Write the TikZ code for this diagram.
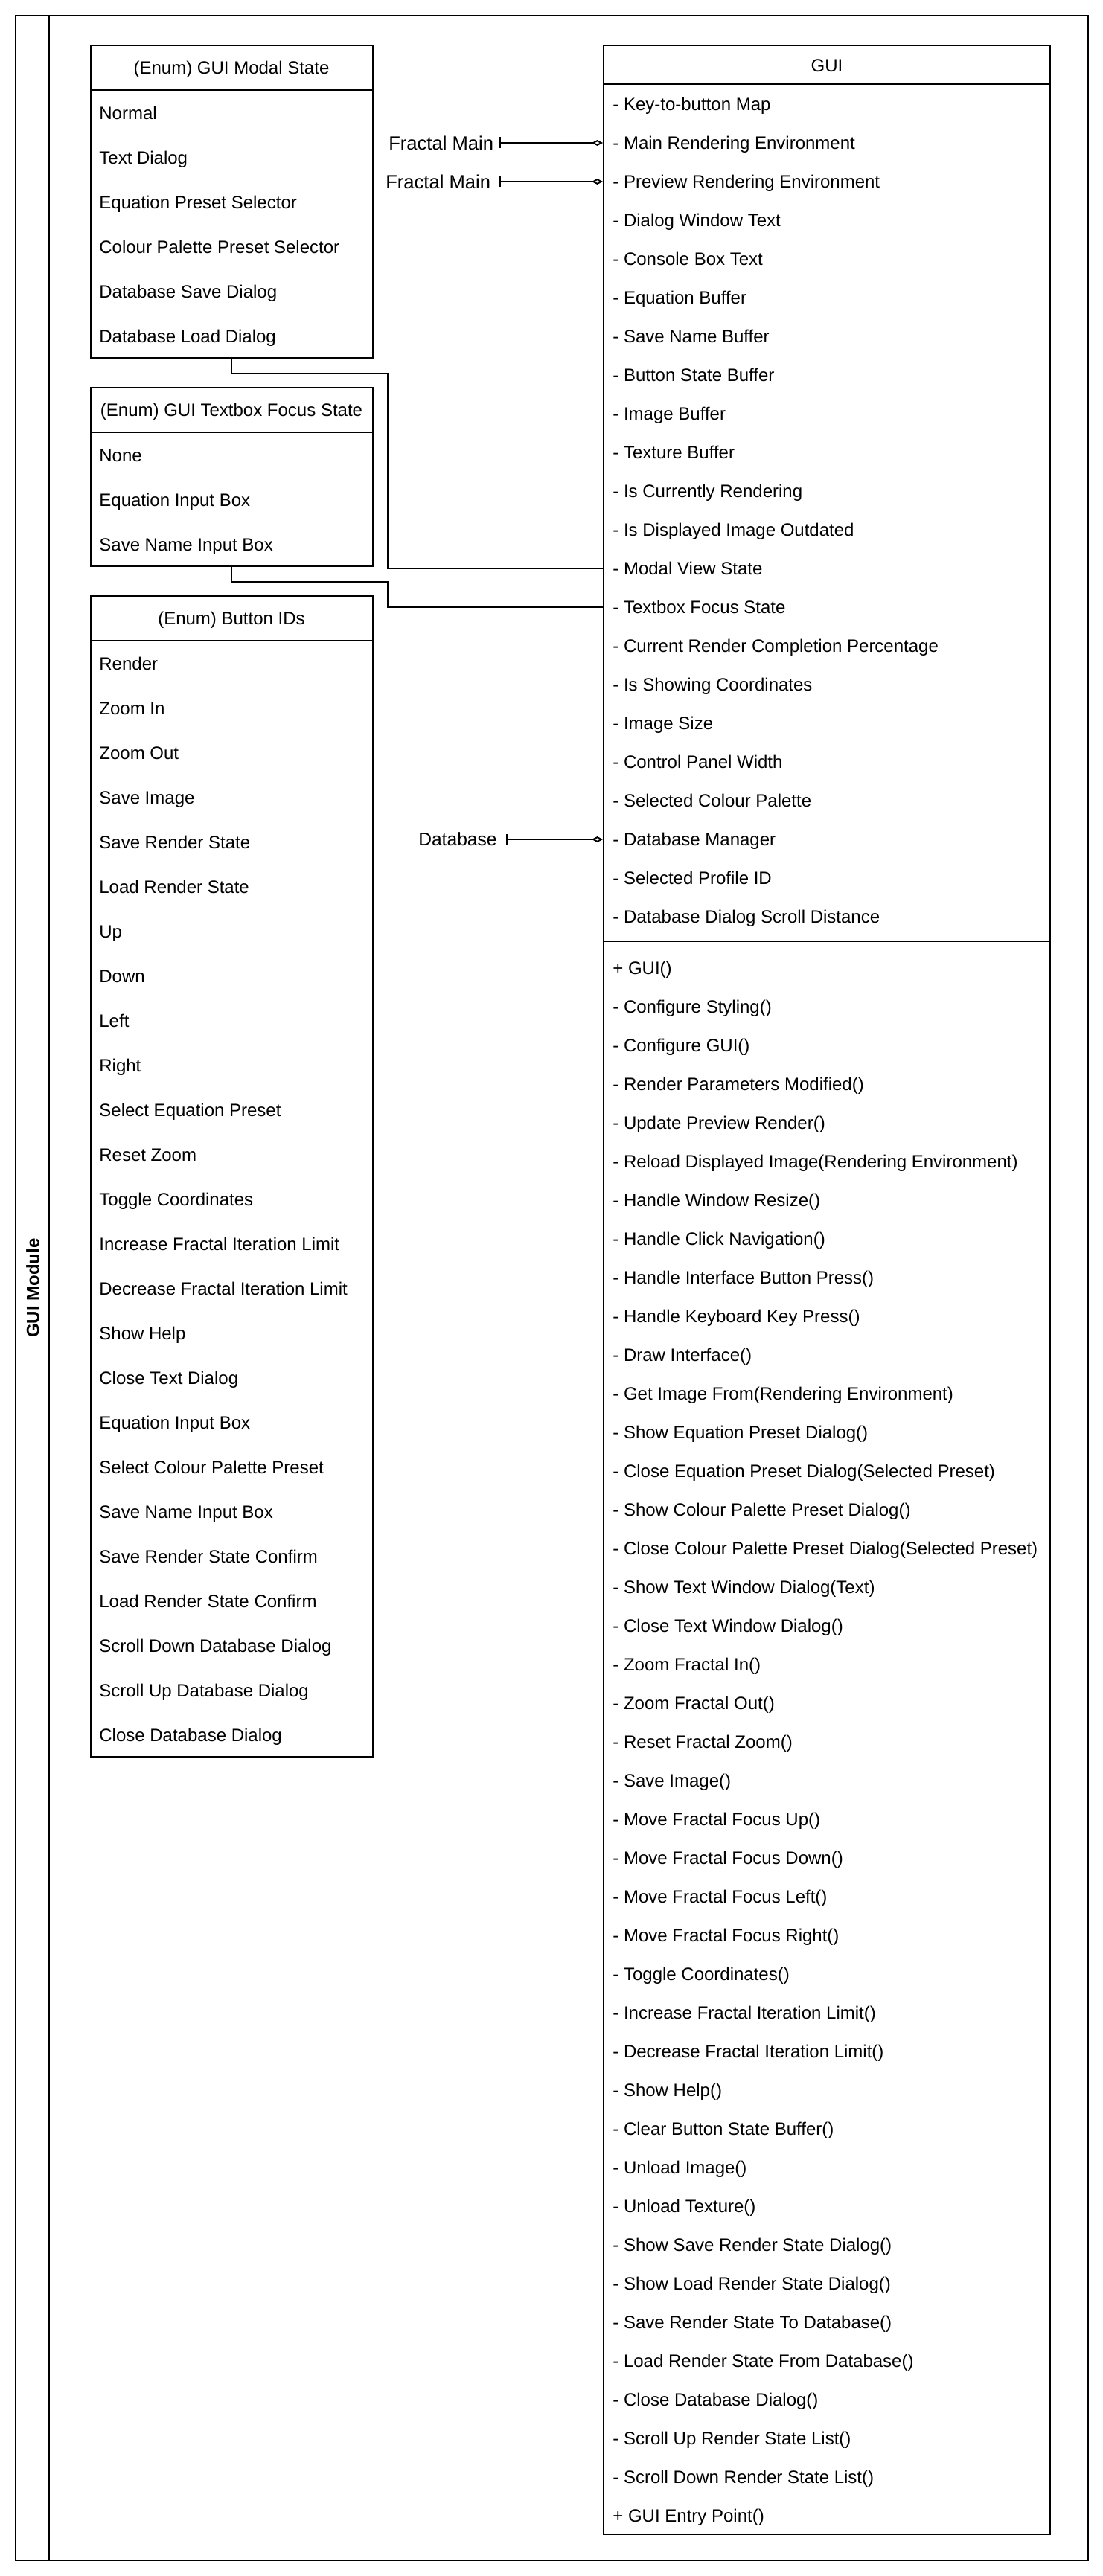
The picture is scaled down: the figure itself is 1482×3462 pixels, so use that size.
\documentclass[tikz,border=0pt]{standalone}
\usepackage{fontspec}
\setmainfont{Liberation Sans}
\usetikzlibrary{arrows.meta,fit}
\begin{document}
\begin{tikzpicture}[x=0.5pt,y=-0.5pt,
  box/.style={draw, line width=1pt, inner sep=0pt},
  sep/.style={line width=1pt},
  itm/.style={anchor=west, inner sep=0pt, font=\fontsize{12}{14}\selectfont, text height=8.6pt, text depth=0pt},
  ttl/.style={anchor=center, inner sep=0pt, font=\fontsize{12}{14}\selectfont, text height=8.6pt, text depth=0pt},
  lbl/.style={anchor=east, inner sep=0pt, font=\fontsize{12.8}{15}\selectfont, text height=9.2pt, text depth=0pt},
  link/.style={line width=1pt},
  assoc/.style={line width=1pt, {Bar[width=7.5pt,line width=1pt]}-{Diamond[open,length=7.5pt,width=4pt,line width=1pt]}}
]
\useasboundingbox (0,0) rectangle (1482,3462);

% module frame
\node[box, fit={(21,21) (1462,3441)}] (module) {};
\draw[sep] ([xshift=23pt]module.north west) -- ([xshift=23pt]module.south west);
\node[rotate=90, inner sep=0pt, font=\bfseries\fontsize{12}{14}\selectfont] (modtitle) at (44,1731) {GUI Module};

% GUI Modal State enum
\node[box, fit={(121.5,61) (501,481)}] (modal) {};
\draw[sep] (121.5,121) -- (501,121);
\node[ttl] (modalT) at (311,91) {(Enum) GUI Modal State};
\foreach \txt [count=\i from 0] in {Normal,Text Dialog,Equation Preset Selector,Colour Palette Preset Selector,Database Save Dialog,Database Load Dialog}
  \node[itm] (modal-\i) at (133,{151.7+60*\i}) {\txt};

% GUI Textbox Focus State enum
\node[box, fit={(121.5,521) (501,761)}] (tbox) {};
\draw[sep] (121.5,581) -- (501,581);
\node[ttl] (tboxT) at (311,551) {(Enum) GUI Textbox Focus State};
\foreach \txt [count=\i from 0] in {None,Equation Input Box,Save Name Input Box}
  \node[itm] (tbox-\i) at (133,{611.7+60*\i}) {\txt};

% Button IDs enum
\node[box, fit={(121.5,801) (501,2361)}] (btn) {};
\draw[sep] (121.5,861) -- (501,861);
\node[ttl] (btnT) at (311,831) {(Enum) Button IDs};
\foreach \txt [count=\i from 0] in {Render,Zoom In,Zoom Out,Save Image,Save Render State,Load Render State,Up,Down,Left,Right,Select Equation Preset,Reset Zoom,Toggle Coordinates,Increase Fractal Iteration Limit,Decrease Fractal Iteration Limit,Show Help,Close Text Dialog,Equation Input Box,Select Colour Palette Preset,Save Name Input Box,Save Render State Confirm,Load Render State Confirm,Scroll Down Database Dialog,Scroll Up Database Dialog,Close Database Dialog}
  \node[itm] (btn-\i) at (133,{891.7+60*\i}) {\txt};

% GUI class
\node[box, fit={(811,61) (1411,3406)}] (gui) {};
\draw[sep] (811,113) -- (1411,113);
\draw[sep] (811,1265) -- (1411,1265);
\node[ttl] (guiT) at (1111,88) {GUI};
\foreach \txt [count=\i from 1] in {- Key-to-button Map,- Main Rendering Environment,- Preview Rendering Environment,- Dialog Window Text,- Console Box Text,- Equation Buffer,- Save Name Buffer,- Button State Buffer,- Image Buffer,- Texture Buffer,- Is Currently Rendering,- Is Displayed Image Outdated,- Modal View State,- Textbox Focus State,- Current Render Completion Percentage,- Is Showing Coordinates,- Image Size,- Control Panel Width,- Selected Colour Palette,- Database Manager,- Selected Profile ID,- Database Dialog Scroll Distance}
  \node[itm] (gattr-\i) at (823,{140+52*(\i-1)}) {\txt};
\foreach \txt [count=\i from 1] in {+ GUI(),- Configure Styling(),- Configure GUI(),- Render Parameters Modified(),- Update Preview Render(),- Reload Displayed Image(Rendering Environment),- Handle Window Resize(),- Handle Click Navigation(),- Handle Interface Button Press(),- Handle Keyboard Key Press(),- Draw Interface(),- Get Image From(Rendering Environment),- Show Equation Preset Dialog(),- Close Equation Preset Dialog(Selected Preset),- Show Colour Palette Preset Dialog(),- Close Colour Palette Preset Dialog(Selected Preset),- Show Text Window Dialog(Text),- Close Text Window Dialog(),- Zoom Fractal In(),- Zoom Fractal Out(),- Reset Fractal Zoom(),- Save Image(),- Move Fractal Focus Up(),- Move Fractal Focus Down(),- Move Fractal Focus Left(),- Move Fractal Focus Right(),- Toggle Coordinates(),- Increase Fractal Iteration Limit(),- Decrease Fractal Iteration Limit(),- Show Help(),- Clear Button State Buffer(),- Unload Image(),- Unload Texture(),- Show Save Render State Dialog(),- Show Load Render State Dialog(),- Save Render State To Database(),- Load Render State From Database(),- Close Database Dialog(),- Scroll Up Render State List(),- Scroll Down Render State List(),+ GUI Entry Point()}
  \node[itm] (gmeth-\i) at (823,{1300.5+52*(\i-1)}) {\txt};

% enum links
\draw[link] (modal.south) -- ++(0,20) -| (521,764) -- (gattr-13.west -| gui.west);
\draw[link] (tbox.south) -- ++(0,20) -| (521,816) -- (gattr-14.west -| gui.west);

% external associations
\node[lbl] (fm1) at (663.5,192) {Fractal Main};
\draw[assoc] ([xshift=3.5pt]fm1.east) -- (fm1.east -| gui.west);
\node[lbl] (fm2) at (659.5,244) {Fractal Main};
\draw[assoc] ([xshift=5.5pt]fm2.east) -- (fm2.east -| gui.west);
\node[lbl, font=\fontsize{12.3}{14}\selectfont, text height=8.8pt] (db) at (668,1128) {Database};
\draw[assoc] ([xshift=6pt]db.east) -- (db.east -| gui.west);
\end{tikzpicture}
\end{document}
